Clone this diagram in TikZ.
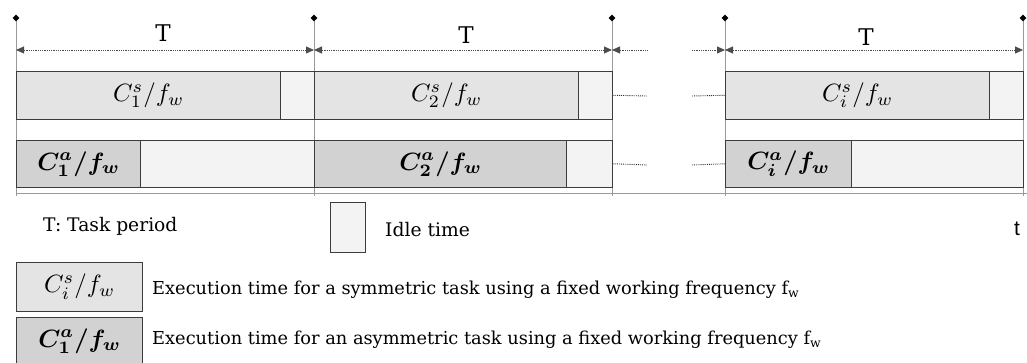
\documentclass[tikz,border=0pt]{standalone}
\usepackage{amsmath}
\usepackage{bm}
\usepackage{graphicx}
\usepackage{fontspec}
\setmainfont{DejaVu Serif}
\newfontfamily\tsans{Liberation Sans}
\usetikzlibrary{arrows.meta,shapes.geometric}
\definecolor{symc}{HTML}{E4E4E4}
\definecolor{asyc}{HTML}{D2D2D2}
\definecolor{idlc}{HTML}{F3F3F3}
\definecolor{edgec}{HTML}{3C3C3C}
\newcommand{\boxmath}[1]{\scalebox{2.5}{$#1$}}
\tikzset{
  blk/.style={draw=edgec, line width=1.4pt, inner sep=0pt, anchor=south west},
  symbox/.style={blk, fill=symc},
  asybox/.style={blk, fill=asyc},
  idlebox/.style={blk, fill=idlc},
  vline/.style={draw=gray!80, line width=0.8pt},
  dia/.style={diamond, fill=black, inner sep=0pt, minimum size=7pt},
  dimarrow/.style={densely dotted, draw=black!70, line width=0.8pt, {Triangle[length=8pt,width=7pt]}-{Triangle[length=8pt,width=7pt]}},
  rarrow/.style={densely dotted, draw=black!70, line width=0.8pt, -{Triangle[length=8pt,width=7pt]}},
  larrow/.style={densely dotted, draw=black!70, line width=0.8pt, {Triangle[length=8pt,width=7pt]}-},
  dotline/.style={densely dotted, draw=black!80, line width=0.9pt},
  tlabel/.style={font=\fontsize{23}{26}\selectfont},
  legtext/.style={anchor=west, inner sep=0pt, font=\fontsize{17.8}{21}\selectfont},
  legbig/.style={anchor=west, inner sep=0pt, font=\fontsize{18.7}{22}\selectfont}
}
\begin{document}
\begin{tikzpicture}[x=1pt,y=1pt]
\useasboundingbox (0,0) rectangle (1027,363);
% vertical period lines
\foreach \n/\x in {a/16,b/314,c/612,d/725,e/1023}{
  \coordinate (top\n) at (\x,343);
  \coordinate (bot\n) at (\x,167);
  \coordinate (arr\n) at (\x,313);
  \draw[vline] (top\n) -- (bot\n);
  \node[dia] (dia\n) at (\x,345) {};
}
% time axis
\coordinate (axL) at (16,169);
\coordinate (axR) at (1027,169);
\draw[draw=gray!80, line width=1pt] (axL) -- (axR);
% period arrows
\draw[dimarrow] (arra) -- (arrb);
\draw[dimarrow] (arrb) -- (arrc);
\coordinate (arrc2) at (647,313);
\coordinate (arrd2) at (692,313);
\draw[larrow] (arrc) -- (arrc2);
\draw[rarrow] (arrd2) -- (arrd);
\draw[dimarrow] (arrd) -- (arre);
\node[tlabel] (T1) at (163,330) {T};
\node[tlabel] (T2) at (466,328) {T};
\node[tlabel] (T3) at (866,326) {T};
% row 1 (symmetric)
\node[symbox, minimum width=264pt, minimum height=48pt] (s1) at (16,243) {\boxmath{C_1^s/f_w}};
\node[idlebox, minimum width=34pt, minimum height=48pt] (s1i) at (280,243) {};
\node[symbox, minimum width=264pt, minimum height=48pt] (s2) at (314,243) {\boxmath{C_2^s/f_w}};
\node[idlebox, minimum width=34pt, minimum height=48pt] (s2i) at (578,243) {};
\node[symbox, minimum width=264pt, minimum height=48pt] (s3) at (725,243) {\boxmath{C_i^s/f_w}};
\node[idlebox, minimum width=34pt, minimum height=48pt] (s3i) at (989,243) {};
% row 2 (asymmetric)
\node[asybox, minimum width=124pt, minimum height=47pt] (a1) at (16,175) {\boxmath{\bm{C_1^a/f_w}}};
\node[idlebox, minimum width=174pt, minimum height=47pt] (a1i) at (140,175) {};
\node[asybox, minimum width=252pt, minimum height=47pt] (a2) at (314,175) {\boxmath{\bm{C_2^a/f_w}}};
\node[idlebox, minimum width=46pt, minimum height=47pt] (a2i) at (566,175) {};
\node[asybox, minimum width=126pt, minimum height=47pt] (a3) at (725,175) {\boxmath{\bm{C_i^a/f_w}}};
\node[idlebox, minimum width=172pt, minimum height=47pt] (a3i) at (851,175) {};
% continuation dots
\coordinate (d1a) at (647,267); \coordinate (d1b) at (692,267);
\coordinate (d2a) at (647,198); \coordinate (d2b) at (692,198);
\draw[dotline] (s2i.east) -- (d1a);
\draw[dotline] (d1b) -- (s3.west);
\draw[dotline] (a2i.east) -- (d2a);
\draw[dotline] (d2b) -- (a3.west);
% legend
\node[legbig] (lT) at (43,137) {T: Task period};
\node[idlebox, minimum width=35pt, minimum height=50pt] (lidle) at (330,110) {};
\node[legbig] (lidt) at (385,133) {Idle time};
\node[font=\tsans\fontsize{21}{24}\selectfont, inner sep=0pt] (tt) at (1017,134) {t};
\node[symbox, minimum width=126pt, minimum height=49pt] (ls) at (16,51) {\boxmath{C_i^s/f_w}};
\node[asybox, minimum width=126pt, minimum height=47pt] (la) at (16,-2) {\boxmath{\bm{C_1^a/f_w}}};
\node[legtext] (ls t) at (152,73) {Execution time for a symmetric task using a fixed working frequency f\textsubscript{w}};
\node[legtext] (la t) at (152,23) {Execution time for an asymmetric task using a fixed working frequency f\textsubscript{w}};
\end{tikzpicture}
\end{document}
